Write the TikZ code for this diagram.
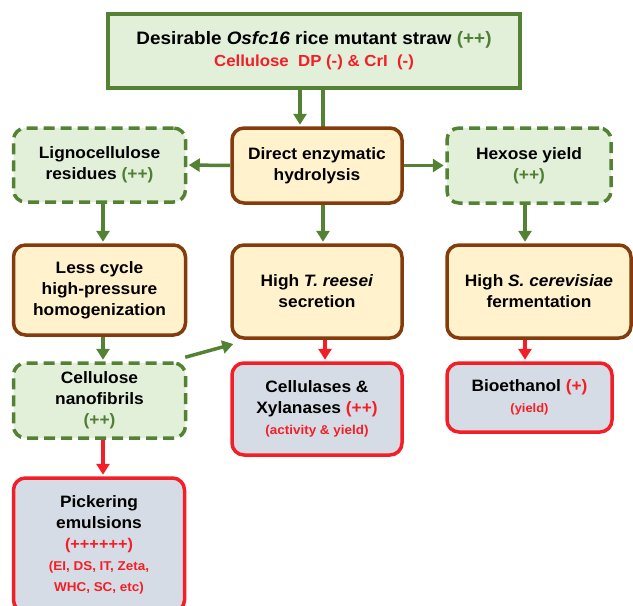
\documentclass[tikz,border=0pt]{standalone}
\usepackage{fontspec}
\setmainfont[FakeStretch=1.05]{Liberation Sans}
\usetikzlibrary{arrows.meta}
\definecolor{gfill}{HTML}{E2EFD9}
\definecolor{gline}{HTML}{548235}
\definecolor{gtext}{HTML}{4F7F33}
\definecolor{yfill}{HTML}{FFF2CC}
\definecolor{bline}{HTML}{843C0C}
\definecolor{bfill}{HTML}{D6DCE5}
\definecolor{rline}{HTML}{F41E26}
\definecolor{rtext}{HTML}{F41E26}
\pgfdeclarelayer{bg}
\pgfsetlayers{bg,main}
\tikzset{
  box/.style={rounded corners=12pt, line width=3.5pt, align=center, inner sep=0pt,
    font=\bfseries\fontsize{16.5}{21}\selectfont},
  gbox/.style={box, fill=gfill, draw=gline, dash pattern=on 11pt off 6pt},
  ybox/.style={box, fill=yfill, draw=bline},
  rbox/.style={box, fill=bfill, draw=rline},
  topbox/.style={fill=gfill, draw=gline, line width=4pt, align=center, inner sep=0pt,
    font=\bfseries\fontsize{18}{22}\selectfont},
  garr/.style={line width=3.5pt, draw=gline, -{Triangle[width=13pt,length=11pt]}, shorten >=1.5pt},
  rarr/.style={line width=3.5pt, draw=rline, -{Triangle[width=13pt,length=11pt]}, shorten >=1.5pt}
}
\begin{document}
\begin{tikzpicture}[x=1pt,y=-1pt]
\useasboundingbox (0,0) rectangle (633,606);
\node[topbox, minimum width=412pt, minimum height=74pt] (top) at (314,51)
  {Desirable \textit{Osfc16} rice mutant straw \textcolor{gtext}{(++)}\\
   {\color{rtext}\fontsize{16}{18}\selectfont Cellulose~ DP (-) \& CrI~ (-)}};
\node[gbox, minimum width=172pt, minimum height=74pt] (ligno) at (99.5,165)
  {Lignocellulose\\residues \textcolor{gtext}{(++)}};
\node[ybox, minimum width=170pt, minimum height=75pt] (direct) at (317,165.5)
  {Direct enzymatic\\hydrolysis};
\node[gbox, minimum width=164pt, minimum height=75pt] (hexose) at (529,165.5)
  {Hexose yield\\\textcolor{gtext}{(++)}};
\node[ybox, minimum width=172pt, minimum height=90pt] (less) at (99.5,290)
  {Less cycle\\high-pressure\\homogenization};
\node[ybox, minimum width=170pt, minimum height=93pt] (treesei) at (317,291.5)
  {High \textit{T. reesei}\\secretion};
\node[ybox, minimum width=184pt, minimum height=93pt] (scer) at (539,291.5)
  {High \textit{S. cerevisiae}\\fermentation};
\node[gbox, minimum width=172pt, minimum height=75pt] (nano) at (99.5,400.5)
  {Cellulose\\nanofibrils\\\textcolor{gtext}{(++)}};
\node[rbox, minimum width=170pt, minimum height=92pt] (cell) at (317,409)
  {Cellulases \&\\Xylanases \textcolor{rtext}{(++)}\\
   {\color{rtext}\fontsize{12.8}{15}\selectfont (activity \& yield)}};
\node[rbox, minimum width=165pt, minimum height=69pt] (bio) at (529.5,397.5)
  {Bioethanol \textcolor{rtext}{(+)}\\
   {\color{rtext}\fontsize{12.3}{15}\selectfont (yield)}};
\node[rbox, minimum width=171pt, minimum height=134pt] (pick) at (99,545)
  {Pickering\\emulsions\\
   {\color{rtext}\fontsize{15.5}{18}\selectfont (++++++)}\\
   {\color{rtext}\fontsize{12.8}{14.5}\selectfont (EI, DS, IT, Zeta,}\\
   {\color{rtext}\fontsize{12.8}{14.5}\selectfont WHC, SC, etc)}};
\begin{pgfonlayer}{bg}
\draw[garr] ([xshift=9pt]top.south) -- ([xshift=9pt]top.south |- treesei.north);
\end{pgfonlayer}
\draw[garr] ([xshift=-14pt]top.south) -- ([xshift=-14pt]top.south |- direct.north);
\draw[garr] (direct.west) -- (ligno.east);
\draw[garr] (direct.east) -- (hexose.west);
\draw[garr] ([xshift=3.5pt]ligno.south) -- ([xshift=3.5pt]ligno.south |- less.north);
\draw[garr] ([xshift=-4pt]hexose.south) -- ([xshift=-4pt]hexose.south |- scer.north);
\draw[garr] ([xshift=3.5pt]less.south) -- ([xshift=3.5pt]less.south |- nano.north);
\draw[garr, shorten >=1pt] ([shift={(-2pt,4pt)}]nano.north east) -- ([shift={(4pt,-4pt)}]treesei.south west);
\draw[rarr] ([xshift=8pt]treesei.south) -- ([xshift=8pt]treesei.south |- cell.north);
\draw[rarr] ([xshift=-14pt]scer.south) -- ([xshift=-14pt]scer.south |- bio.north);
\draw[rarr] ([xshift=3.5pt]nano.south) -- ([xshift=3.5pt]nano.south |- pick.north);
\end{tikzpicture}
\end{document}
